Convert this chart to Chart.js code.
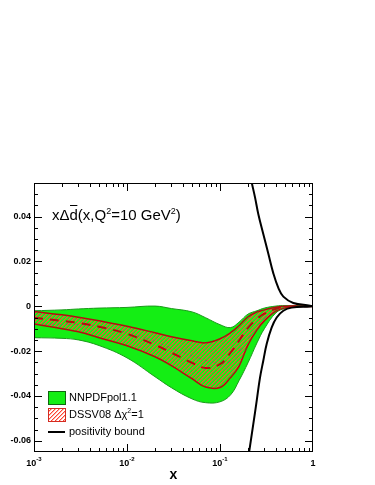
<!DOCTYPE html>
<html>
<head>
<meta charset="utf-8">
<script src="https://cdn.jsdelivr.net/npm/chart.js@4.4.1/dist/chart.umd.min.js"></script>
<style>
  html, body { margin: 0; padding: 0; background: #fff; }
  canvas { display: block; }
</style>
</head>
<body>
<canvas id="chart" width="375" height="485"></canvas>
<script>
// x grid shared by both bands
const xGrid = [0.001, 0.002, 0.003, 0.005, 0.01, 0.02, 0.03, 0.05, 0.07, 0.1, 0.13, 0.16, 0.2, 0.25, 0.3, 0.4, 0.5, 0.7, 1.0];

// NNPDFpol1.1 band (upper / lower edge, central value)
const nnpdfUpper   = [-0.0020, -0.0016, -0.0012, -0.0008, -0.0005, 0.0001, -0.0010, -0.0025, -0.0051, -0.0082, -0.0095, -0.0071, -0.0035, -0.0020, -0.0008, 0.0001, 0.0003, 0.0003, 0.0];
const nnpdfLower   = [-0.0140, -0.0143, -0.0150, -0.0175, -0.0230, -0.0314, -0.0363, -0.0413, -0.0430, -0.0426, -0.0395, -0.0332, -0.0252, -0.0163, -0.0100, -0.0029, -0.0010, -0.0001, 0.0];
const nnpdfCentral = [-0.0080, -0.0080, -0.0081, -0.0092, -0.0118, -0.0157, -0.0187, -0.0219, -0.0240, -0.0254, -0.0245, -0.0201, -0.0143, -0.0091, -0.0054, -0.0014, -0.0003, 0.0001, 0.0];

// DSSV08 band
const dssvUpper   = [-0.0023, -0.0038, -0.0049, -0.0065, -0.0089, -0.0118, -0.0136, -0.0154, -0.0163, -0.0145, -0.0118, -0.0087, -0.0047, -0.0025, -0.0016, -0.0004, 0.0, 0.0, 0.0];
const dssvLower   = [-0.0079, -0.0100, -0.0114, -0.0140, -0.0176, -0.0225, -0.0265, -0.0323, -0.0360, -0.0362, -0.0318, -0.0268, -0.0172, -0.0105, -0.0065, -0.0022, -0.0007, -0.0001, 0.0];
const dssvCentral = [-0.0051, -0.0065, -0.0074, -0.0091, -0.0123, -0.0172, -0.0207, -0.0252, -0.0275, -0.0258, -0.0207, -0.0154, -0.0096, -0.0056, -0.0033, -0.0011, -0.0002, 0.0, 0.0];

// positivity bound
const posUpperX = [0.205, 0.219, 0.238, 0.258, 0.292, 0.331, 0.374, 0.424, 0.48, 0.614, 0.93, 1.0];
const posUpper  = [0.061, 0.0553, 0.0486, 0.0412, 0.0323, 0.0234, 0.0148, 0.0082, 0.0043, 0.0015, 0.0003, 0.0];
const posLowerX = [0.195, 0.205, 0.228, 0.248, 0.269, 0.292, 0.318, 0.359, 0.407, 0.48, 0.59, 0.93, 1.0];
const posLower  = [-0.072, -0.0654, -0.0526, -0.0422, -0.0319, -0.0243, -0.0167, -0.0095, -0.0050, -0.0020, -0.0006, -0.0001, 0.0];

// axes
const yTicks = [0.04, 0.02, 0, -0.02, -0.04, -0.06];
const yTickLabels = ['0.04', '0.02', '0', '-0.02', '-0.04', '-0.06'];
const xTicks = [0.001, 0.01, 0.1, 1];
const xTickBase = ['10', '10', '10', '1'];
const xTickExp = ['-3', '-2', '-1', ''];
const legendLabels = ['NNPDFpol1.1', 'DSSV08 \u0394\u03c7', 'positivity bound'];

const FONT = '"Liberation Sans", Arial, Helvetica, sans-serif';
const pts = (xs, ys) => xs.map((x, i) => ({ x, y: ys[i] }));

const canvas = document.getElementById('chart');
const ctx = canvas.getContext('2d');

// light red diagonal hatching (soft edge like the ROOT output)
function makeHatch() {
  const c = document.createElement('canvas');
  c.width = 4; c.height = 4;
  const g = c.getContext('2d');
  for (let i = 0; i < 4; i++) {
    g.fillStyle = '#ff4433';
    g.fillRect(i, 3 - i, 1, 1);
    g.fillStyle = 'rgba(255,90,70,0.45)';
    g.fillRect(i, (4 - i) % 4, 1, 1);
  }
  return ctx.createPattern(c, 'repeat');
}
const hatch = makeHatch();

const GREEN = '#14ee14';
const DARKRED = '#b01010';

// frame, ticks, labels, title and legend
const decorations = {
  id: 'decorations',
  afterDraw(chart) {
    const { ctx, chartArea: a, scales: { x, y } } = chart;
    ctx.save();
    ctx.strokeStyle = '#000';
    ctx.lineWidth = 1;
    ctx.strokeRect(a.left + 0.5, a.top + 0.5, a.right - a.left - 1, a.bottom - a.top - 1);

    ctx.beginPath();
    for (let d = -3; d < 0; d++) {
      for (let m = 1; m <= 9; m++) {
        if (d === -3 && m === 1) continue;
        const px = Math.round(x.getPixelForValue(m * Math.pow(10, d))) + 0.5;
        const len = m === 1 ? 8 : 4;
        ctx.moveTo(px, a.bottom); ctx.lineTo(px, a.bottom - len);
        ctx.moveTo(px, a.top); ctx.lineTo(px, a.top + len);
      }
    }
    for (let k = -12; k <= 10; k++) {
      const py = Math.round(y.getPixelForValue(k * 0.005)) + 0.5;
      const len = k % 4 === 0 ? 8 : 4;
      ctx.moveTo(a.left, py); ctx.lineTo(a.left + len, py);
      ctx.moveTo(a.right, py); ctx.lineTo(a.right - len, py);
    }
    ctx.stroke();

    // y tick labels
    ctx.fillStyle = '#000';
    ctx.font = 'bold 9px ' + FONT;
    ctx.textAlign = 'right';
    ctx.textBaseline = 'middle';
    yTicks.forEach((v, i) => ctx.fillText(yTickLabels[i], a.left - 3, y.getPixelForValue(v)));

    // x tick labels with exponents
    ctx.textBaseline = 'alphabetic';
    ctx.textAlign = 'left';
    xTicks.forEach((v, i) => {
      ctx.font = 'bold 9px ' + FONT;
      const w1 = ctx.measureText(xTickBase[i]).width;
      ctx.font = 'bold 6px ' + FONT;
      const w2 = ctx.measureText(xTickExp[i]).width;
      const start = x.getPixelForValue(v) - (w1 + w2) / 2;
      ctx.font = 'bold 9px ' + FONT;
      ctx.fillText(xTickBase[i], start, a.bottom + 14);
      ctx.font = 'bold 6px ' + FONT;
      ctx.fillText(xTickExp[i], start + w1, a.bottom + 9);
    });

    // x axis title
    ctx.font = 'bold 14px ' + FONT;
    ctx.textAlign = 'center';
    ctx.fillText('x', (a.left + a.right) / 2, a.bottom + 27);

    // plot title  x Δ dbar (x,Q^2=10 GeV^2)
    ctx.textAlign = 'left';
    let cx = 52;
    const by = 220;
    const put = (s, size, dy) => {
      ctx.font = size + 'px ' + FONT;
      ctx.fillText(s, cx, by + dy);
      cx += ctx.measureText(s).width;
    };
    put('x\u0394', 15, 0);
    const d0 = cx;
    put('d', 15, 0);
    ctx.beginPath();
    ctx.moveTo(d0 + 0.5, by - 14.5); ctx.lineTo(cx - 0.5, by - 14.5);
    ctx.stroke();
    put('(x,Q', 15, 0);
    put('2', 9, -6);
    put('=10 GeV', 15, 0);
    put('2', 9, -6);
    put(')', 15, 0);

    // legend
    ctx.textBaseline = 'middle';
    ctx.fillStyle = GREEN;
    ctx.fillRect(48, 391, 17, 13);
    ctx.strokeStyle = '#116611';
    ctx.strokeRect(48.5, 391.5, 17, 13);
    ctx.fillStyle = '#fff';
    ctx.fillRect(48, 408, 17, 13);
    ctx.fillStyle = hatch;
    ctx.fillRect(48, 408, 17, 13);
    ctx.strokeStyle = '#d42a20';
    ctx.strokeRect(48.5, 408.5, 17, 13);
    ctx.strokeStyle = '#000';
    ctx.lineWidth = 2;
    ctx.beginPath();
    ctx.moveTo(48, 432); ctx.lineTo(65, 432);
    ctx.stroke();

    ctx.fillStyle = '#000';
    ctx.font = '11px ' + FONT;
    ctx.fillText(legendLabels[0], 69, 398);
    ctx.fillText(legendLabels[2], 69, 432);
    ctx.fillText(legendLabels[1], 69, 415);
    let lx = 69 + ctx.measureText(legendLabels[1]).width;
    ctx.font = '7px ' + FONT;
    ctx.fillText('2', lx, 411);
    lx += ctx.measureText('2').width;
    ctx.font = '11px ' + FONT;
    ctx.fillText('=1', lx, 415);
    ctx.restore();
  }
};

new Chart(ctx, {
  type: 'line',
  data: {
    datasets: [
      { data: pts(xGrid, nnpdfUpper), borderColor: '#1a9a1a', borderWidth: 1, fill: false, order: 9 },
      { data: pts(xGrid, nnpdfLower), borderColor: '#1a9a1a', borderWidth: 1, backgroundColor: GREEN, fill: 0, order: 10 },
      { data: pts(xGrid, dssvUpper), borderColor: DARKRED, borderWidth: 1.5, fill: false, order: 7 },
      { data: pts(xGrid, dssvLower), borderColor: DARKRED, borderWidth: 1.5, backgroundColor: hatch, fill: 2, order: 8 },
      { data: pts(xGrid, nnpdfCentral), borderColor: '#5f7f55', borderWidth: 1, borderDash: [4, 4], fill: false, order: 8.5 },
      { data: pts(xGrid, dssvCentral), borderColor: DARKRED, borderWidth: 2, borderDash: [9, 7], fill: false, order: 6 },
      { data: pts(posUpperX, posUpper), borderColor: '#000', borderWidth: 2, fill: false, order: 1 },
      { data: pts(posLowerX, posLower), borderColor: '#000', borderWidth: 2, fill: false, order: 2 },
    ],
  },
  options: {
    responsive: false,
    animation: false,
    devicePixelRatio: 1,
    elements: {
      point: { radius: 0 },
      line: { tension: 0.4 },
    },
    layout: { padding: { left: 34, right: 62, top: 183, bottom: 33 } },
    plugins: {
      legend: { display: false },
      tooltip: { enabled: false },
      title: { display: false },
    },
    scales: {
      x: { type: 'logarithmic', min: 0.001, max: 1, display: false },
      y: { type: 'linear', min: -0.065, max: 0.055, display: false },
    },
  },
  plugins: [decorations],
});
</script>
</body>
</html>
